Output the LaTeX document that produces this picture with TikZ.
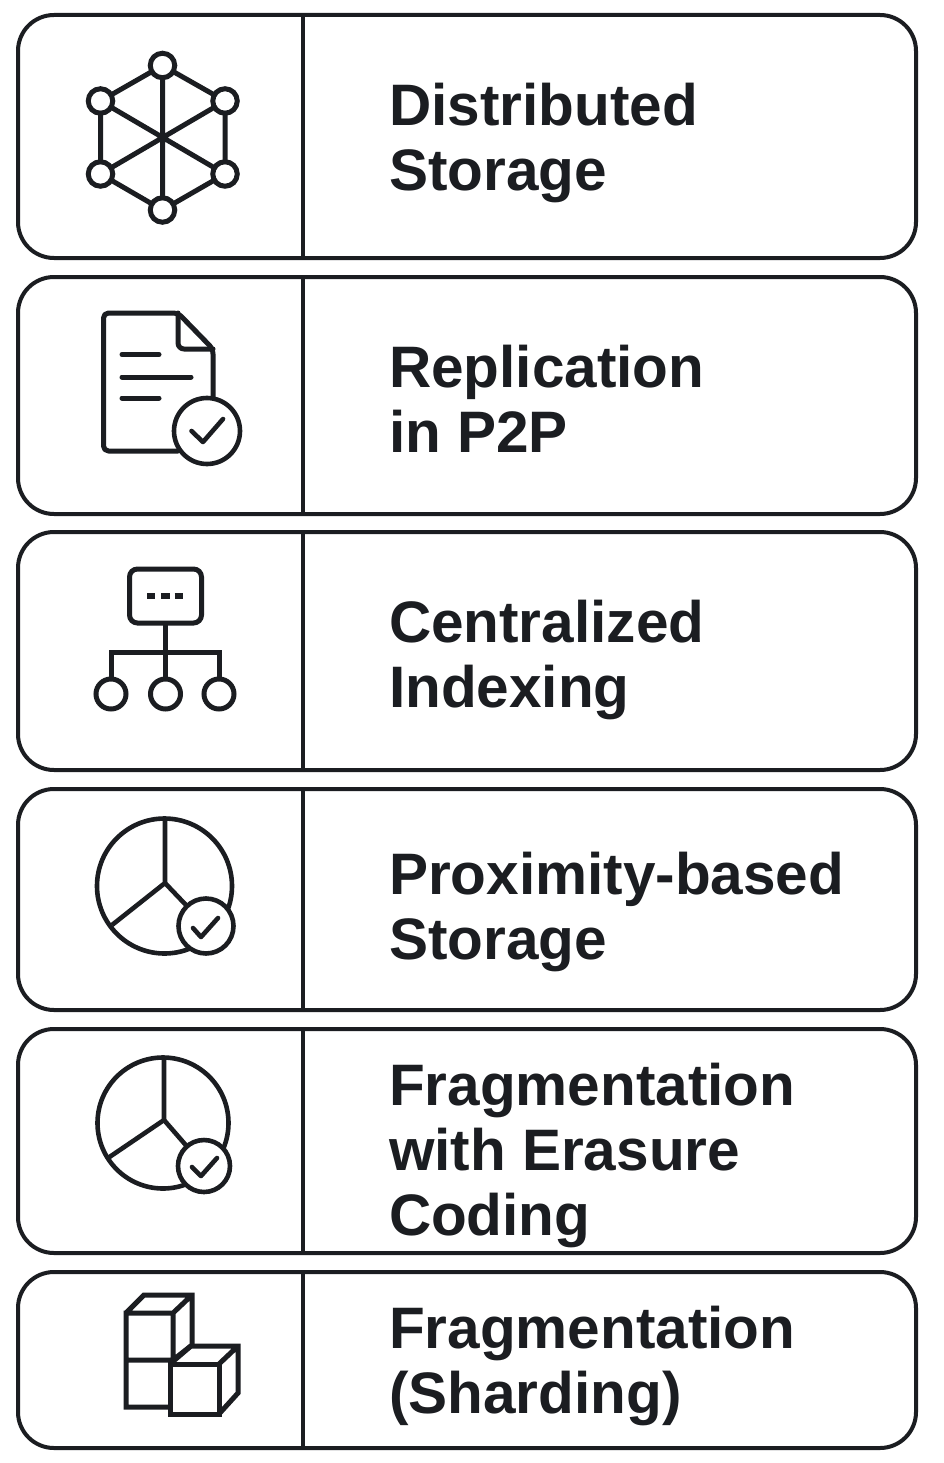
\documentclass[tikz,border=0pt]{standalone}
\usepackage{fontspec}
\setmainfont{Liberation Sans}
\definecolor{ink}{HTML}{1B1D21}
\tikzset{
  every node/.style={outer sep=0pt},
  card/.style={draw=ink,line width=4pt,rounded corners=36pt,fill=white},
  rule/.style={draw=ink,line width=4pt},
  icon/.style={draw=ink,line width=5pt,line join=round,line cap=round},
  thin icon/.style={draw=ink,line width=4.6pt,line join=round,line cap=round},
  hub/.style={circle,draw=ink,line width=5pt,fill=white,inner sep=0pt,minimum size=24.5pt},
  leaf/.style={circle,draw=ink,line width=5pt,fill=white,inner sep=0pt,minimum size=30pt},
  badge/.style={circle,draw=ink,line width=4.6pt,fill=white,inner sep=0pt},
  label/.style={anchor=base west,align=left,inner sep=0pt,text=ink,
    font=\fontsize{58.5pt}{65pt}\selectfont\bfseries},
}
\newcommand{\cardrow}[3]{%
  \node[card,minimum width=898pt,minimum height=#3 pt-#2 pt,anchor=north west,inner sep=0pt] (card#1) at (18,#2) {};
  \coordinate (top#1) at (303,#2);
  \coordinate (bot#1) at (303,#3);
  \draw[rule] (top#1) -- (bot#1);
}
\begin{document}
\begin{tikzpicture}[x=1pt,y=-1pt]
\useasboundingbox[fill=white] (0,0) rectangle (943,1463);
\cardrow{1}{15}{258}
\cardrow{2}{277}{514}
\cardrow{3}{532}{770}
\cardrow{4}{789}{1010}
\cardrow{5}{1029}{1253}
\cardrow{6}{1272}{1448}

\node[label] (t1) at (389,191) {Distributed\\Storage};
\node[label] (t2) at (389,452) {Replication\\in P2P};
\node[label] (t3) at (389,707) {Centralized\\Indexing};
\node[label] (t4) at (389,959) {Proximity-based\\Storage};
\node[label] (t5) at (389,1235) {Fragmentation\\with Erasure\\Coding};
\node[label] (t6) at (389,1413) {Fragmentation\\(Sharding)};

% network icon
\node[hub] (h1) at (162.5,65.5) {};
\node[hub] (h2) at (225,101) {};
\node[hub] (h3) at (225,174) {};
\node[hub] (h4) at (162.5,210) {};
\node[hub] (h5) at (100.5,174) {};
\node[hub] (h6) at (100.5,101) {};
\draw[icon] (h1) -- (h2) -- (h3) -- (h4) -- (h5) -- (h6) -- (h1);
\draw[icon] (h1) -- (h4) (h2) -- (h5) (h3) -- (h6);

% document icon
\draw[icon,rounded corners=5pt] (213,397) -- (213,349) -- (178,313) -- (103.5,313) -- (103.5,451) -- (178,451);
\draw[icon,rounded corners=6pt] (178,313) -- (178,349) -- (213,349);
\draw[icon] (122,354.5) -- (159,354.5) (122,377) -- (191,377) (122,398) -- (159,398);
\node[badge,minimum size=66pt] (b2) at (207,431) {};
\draw[thin icon] (191.5,431) -- (203,442) -- (223,419);

% hierarchy icon
\node[draw=ink,line width=5pt,rounded corners=8pt,minimum width=72pt,minimum height=54pt,inner sep=0pt] (root) at (165.5,596) {};
\draw[ink,line width=6pt] (147,596) -- (155,596) (161,596) -- (169.5,596) (174.5,596) -- (183,596);
\node[leaf] (l1) at (111,694) {};
\node[leaf] (l2) at (165.5,694) {};
\node[leaf] (l3) at (219,694) {};
\coordinate (bar) at (165.5,652);
\draw[icon,line cap=butt,line join=miter] (root.south -| bar) -- (l2.north);
\draw[icon,line cap=butt,line join=miter] (l1.north) -- (l1.north |- bar) -- (l3.north |- bar) -- (l3.north);

% pie icon 1
\node[circle,draw=ink,line width=4.6pt,minimum size=135pt,inner sep=0pt] (p1) at (164.5,886) {};
\coordinate (p1c) at (165,883);
\coordinate (p1a) at (112,925);
\coordinate (b4c) at (206,926);
\draw[thin icon,line cap=butt] (p1.north -| p1c) -- (p1c) -- (p1a);
\draw[thin icon,line cap=butt] (p1c) -- (b4c);
\node[badge,minimum size=55pt] (b4) at (b4c) {};
\draw[thin icon] (193,928) -- (201,937) -- (218,918);

% pie icon 2
\node[circle,draw=ink,line width=4.6pt,minimum size=131pt,inner sep=0pt] (p2) at (163,1123) {};
\coordinate (p2c) at (164,1120);
\coordinate (p2a) at (108,1158);
\draw[thin icon,line cap=butt] (p2.north -| p2c) -- (p2c) -- (p2a);
\coordinate (b5c) at (204,1166);
\draw[thin icon,line cap=butt] (p2c) -- (b5c);
\node[badge,minimum size=52pt] (b5) at (b5c) {};
\draw[thin icon] (192,1167) -- (201,1176) -- (217,1158);

% cubes icon
\draw[draw=ink,line width=5pt,line join=miter]
  (126,1313) rectangle (173,1360)
  (126,1360) -- (126,1407) -- (170,1407)
  (126,1313) -- (144,1295) -- (192,1295) -- (192,1345)
  (173,1313) -- (192,1295)
  (173,1360) -- (192,1345);
\draw[draw=ink,line width=5pt,line join=miter,fill=white]
  (170,1364) rectangle (219,1414);
\draw[draw=ink,line width=5pt,line join=miter]
  (170,1364) -- (191,1346) -- (238,1346) -- (238,1393) -- (219,1414)
  (219,1364) -- (238,1346);
\end{tikzpicture}
\end{document}
